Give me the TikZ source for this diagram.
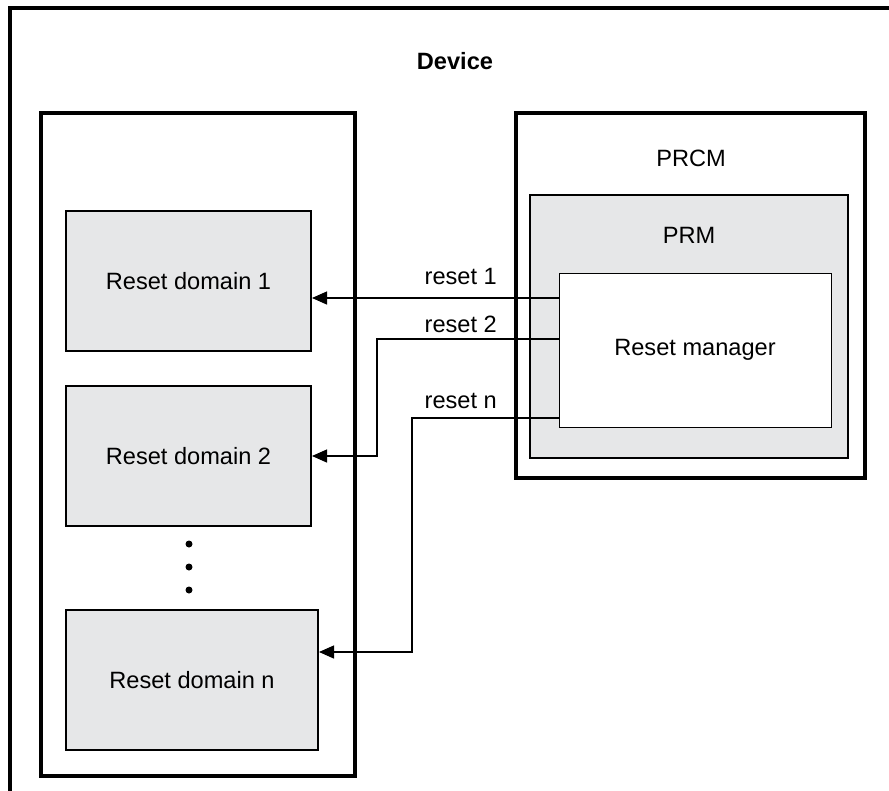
\documentclass[tikz,border=0pt]{standalone}
\usepackage{fontspec}
\setmainfont{Liberation Sans}
\usetikzlibrary{arrows.meta,positioning}
\definecolor{boxgray}{HTML}{E6E7E8}
\tikzset{
  domainbox/.style={draw, line width=2pt, fill=boxgray, minimum width=245pt, minimum height=140pt, inner sep=0pt},
  sig/.style={line width=1.3pt, -{Triangle[length=15pt,width=13pt]}},
  lbl/.style={anchor=base east, inner sep=0pt},
}

\begin{document}
\begin{tikzpicture}[x=1pt,y=-1pt, font=\fontsize{23.6}{28}\selectfont]
\useasboundingbox (0,0) rectangle (889,790);
\clip (0,0) rectangle (889,790);
\draw[line width=3.5pt] (10,8) rectangle (950,850);
\node[font=\fontsize{23.6}{28}\selectfont\bfseries] (dev) at (455,61) {Device};

% reset domains
\draw[line width=4pt] (41,113) rectangle (355,776);
\node[domainbox] (d1) at (188.5,281) {Reset domain 1};
\node[domainbox] (d2) at (188.5,456) {Reset domain 2};
\node[domainbox, minimum width=252pt] (dn) at (192,680) {Reset domain n};
\foreach \y in {544,567,590}
    \fill (189,\y) circle (3.5pt);

% PRCM
\node[draw, line width=3.5pt, minimum width=349pt, minimum height=365pt] (prcm) at (690.5,295.5) {};
\node (prcmlbl) at (691,158) {PRCM};
\node[draw, line width=2.5pt, fill=boxgray, minimum width=318pt, minimum height=263pt] (prm) at (689,326.5) {};
\node (prmlbl) at (689,235) {PRM};
\node[draw, line width=1pt, fill=white, minimum width=272pt, minimum height=154pt] (rm) at (695,350) {Reset manager};

% reset lines
\draw[sig] (rm.west |- 0,298) -- (d1.east |- 0,298);
\draw[sig] (rm.west |- 0,339) -- (377,339) -- (377,456) -- (d2.east);
\draw[sig] (rm.west |- 0,418) -- (412,418) -- (412,652) -- (dn.east |- 0,652);
\node[lbl] (l1) at (497,284) {reset 1};
\node[lbl] (l2) at (497,332) {reset 2};
\node[lbl] (ln) at (497,408) {reset n};
\end{tikzpicture}
\end{document}
